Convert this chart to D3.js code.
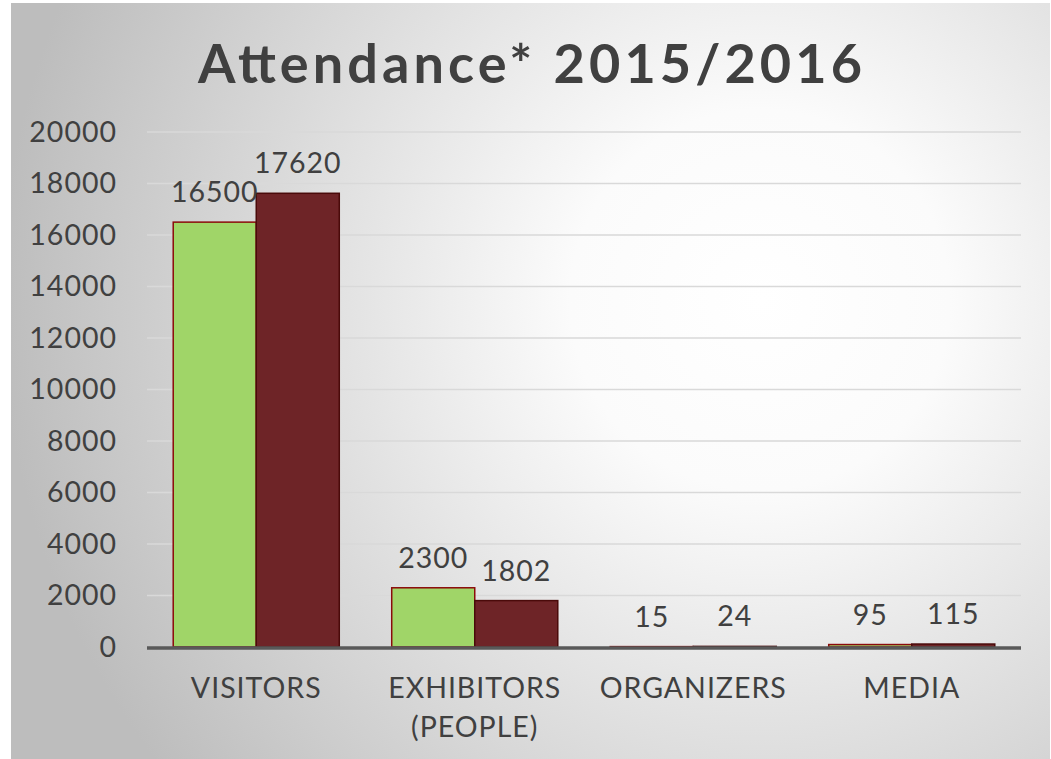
<!DOCTYPE html>
<html>
<head>
<meta charset="utf-8">
<script src="https://cdn.jsdelivr.net/npm/d3@7"></script>
<style>
  body { margin: 0; background: #ffffff; }
  svg text { font-family: "Lato", "Open Sans", sans-serif; fill: #404040; }
</style>
</head>
<body>
<div id="chart"></div>
<script>

// Données
const categories = ["VISITORS", "EXHIBITORS\n(PEOPLE)", "ORGANIZERS", "MEDIA"];
const series = ["2015", "2016"];
const values2015 = [16500, 2300, 15, 95];
const values2016 = [17620, 1802, 24, 115];
const yTicks = [0, 2000, 4000, 6000, 8000, 10000, 12000, 14000, 16000, 18000, 20000];

const width = 1051;
const height = 759;

const svg = d3.select("#chart")
    .append("svg")
    .attr("width", width)
    .attr("height", height);

// Fond dégradé
const defs = svg.append("defs");
const grad = defs.append("radialGradient")
    .attr("id", "bg")
    .attr("gradientUnits", "userSpaceOnUse")
    .attr("cx", 760).attr("cy", 300).attr("r", 760);
grad.append("stop").attr("offset", "0%").attr("stop-color", "#ffffff");
grad.append("stop").attr("offset", "25%").attr("stop-color", "#fbfbfb");
grad.append("stop").attr("offset", "100%").attr("stop-color", "#bdbdbd");

svg.append("rect")
    .attr("x", 11).attr("y", 3)
    .attr("width", 1039).attr("height", 756)
    .attr("fill", "url(#bg)");

// Titre
svg.append("text")
    .attr("x", 530)
    .attr("y", 83)
    .attr("text-anchor", "middle")
    .attr("font-size", "54px")
    .attr("font-weight", "bold")
    .attr("textLength", 664)
    .attr("lengthAdjust", "spacing")
    .text("Attendance* 2015/2016");

// Echelles
const scaleY = d3.scaleLinear()
    .domain([0, 20000])
    .range([647, 132]);

const scaleX = d3.scaleBand()
    .domain(categories)
    .range([147, 1021])
    .paddingInner(0.24)
    .paddingOuter(0.12);

const scaleS = d3.scaleBand()
    .domain(series)
    .range([0, scaleX.bandwidth()]);

const colors = { "2015": "#a0d568", "2016": "#6e2427" };
const strokes = { "2015": "#8b0b0b", "2016": "#4a0a0a" };

// Grille
svg.append("g")
    .selectAll("line")
    .data(yTicks.filter(d => d > 0))
    .join("line")
    .attr("x1", 147).attr("x2", 1021)
    .attr("y1", d => scaleY(d)).attr("y2", d => scaleY(d))
    .attr("stroke", "#d9d9d9")
    .attr("stroke-width", 1.5);

// Axe Y
const yAxis = svg.append("g")
    .attr("transform", "translate(147,0)")
    .call(d3.axisLeft(scaleY).tickValues(yTicks).tickSize(0).tickPadding(30).tickFormat(d3.format("d")));
yAxis.select(".domain").remove();
yAxis.selectAll("text")
    .attr("font-size", "28.5px")
    .attr("fill", "#404040")
    .attr("letter-spacing", "1px")
    .style("font-family", "Lato, sans-serif");

// Barres
const rows = categories.map((c, i) => ({ cat: c, vals: [
    { s: "2015", v: values2015[i] },
    { s: "2016", v: values2016[i] }
]}));

const groups = svg.append("g")
    .selectAll("g")
    .data(rows)
    .join("g")
    .attr("transform", d => `translate(${scaleX(d.cat)},0)`);

groups.selectAll("rect")
    .data(d => d.vals)
    .join("rect")
    .attr("x", d => scaleS(d.s))
    .attr("y", d => scaleY(d.v))
    .attr("width", scaleS.bandwidth())
    .attr("height", d => scaleY(0) - scaleY(d.v))
    .attr("fill", d => colors[d.s])
    .attr("stroke", d => strokes[d.s])
    .attr("stroke-width", 1.5);

groups.selectAll("text")
    .data(d => d.vals)
    .join("text")
    .attr("x", d => scaleS(d.s) + scaleS.bandwidth() / 2)
    .attr("y", d => scaleY(d.v) - 20)
    .attr("text-anchor", "middle")
    .attr("font-size", "28.5px")
    .attr("letter-spacing", "1px")
    .text(d => d.v);

// Axe X
svg.append("line")
    .attr("x1", 147).attr("x2", 1021)
    .attr("y1", scaleY(0) + 1).attr("y2", scaleY(0) + 1)
    .attr("stroke", "#595959")
    .attr("stroke-width", 3.5);

const xLabels = svg.append("g")
    .selectAll("text")
    .data(categories)
    .join("text")
    .attr("x", d => scaleX(d) + scaleX.bandwidth() / 2)
    .attr("y", 698)
    .attr("text-anchor", "middle")
    .attr("font-size", "28.5px")
    .attr("letter-spacing", "1px");

xLabels.selectAll("tspan")
    .data(d => d.split("\n"))
    .join("tspan")
    .attr("x", function () { return d3.select(this.parentNode).attr("x"); })
    .attr("dy", (d, i) => i === 0 ? 0 : 39)
    .text(d => d);

</script>
</body>
</html>
